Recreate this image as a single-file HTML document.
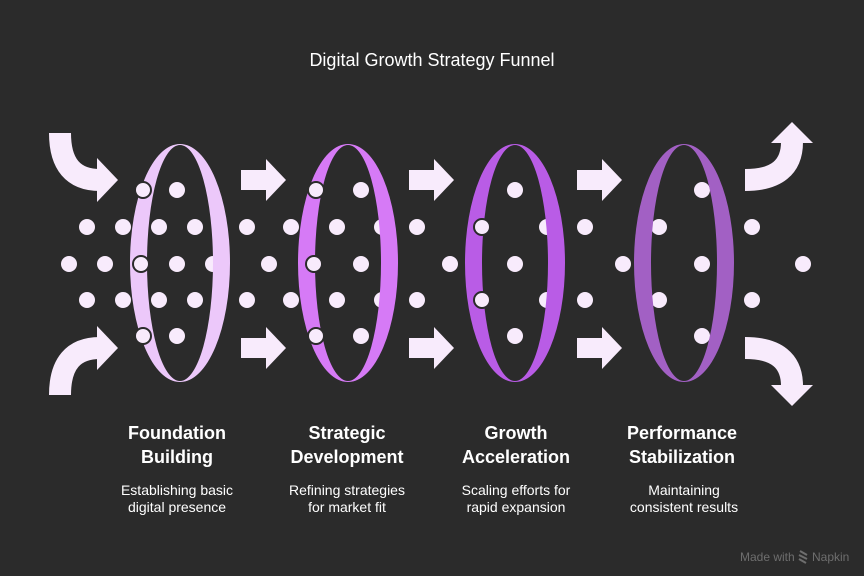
<!DOCTYPE html>
<html><head><meta charset="utf-8"><style>
body{margin:0;background:#2b2b2b;}
svg{display:block}
text{font-family:"Liberation Sans",sans-serif;}
</style></head><body>
<svg width="864" height="576" viewBox="0 0 864 576" xmlns="http://www.w3.org/2000/svg">
<rect width="864" height="576" fill="#2b2b2b"/>
<text x="432" y="66" text-anchor="middle" font-size="18" fill="#fff">Digital Growth Strategy Funnel</text>
<g fill="#f8ebfc" stroke="#f8ebfc">
<path d="M60,133 Q60,180 100,180" fill="none" stroke-width="22"/>
<polygon points="97,158 118,180 97,202" stroke="none"/>
<path d="M60,395 Q60,348 100,348" fill="none" stroke-width="22"/>
<polygon points="97,326 118,348 97,370" stroke="none"/>
<path d="M745,180 Q792,180 792,142" fill="none" stroke-width="22"/>
<polygon points="771,143 792,122 813,143" stroke="none"/>
<path d="M745,348 Q792,348 792,386" fill="none" stroke-width="22"/>
<polygon points="771,385 792,406 813,385" stroke="none"/>
<g stroke="none">
<polygon points="241,170 266,170 266,159 286,180 266,201 266,190 241,190"/>
<polygon points="241,338 266,338 266,327 286,348 266,369 266,358 241,358"/>
<polygon points="409,170 434,170 434,159 454,180 434,201 434,190 409,190"/>
<polygon points="409,338 434,338 434,327 454,348 434,369 434,358 409,358"/>
<polygon points="577,170 602,170 602,159 622,180 602,201 602,190 577,190"/>
<polygon points="577,338 602,338 602,327 622,348 602,369 602,358 577,358"/>
</g>
</g>
<g fill="#f8ebfc">
<circle cx="177" cy="190" r="8"/><circle cx="361" cy="190" r="8"/><circle cx="515" cy="190" r="8"/><circle cx="702" cy="190" r="8"/>
<circle cx="177" cy="336" r="8"/><circle cx="361" cy="336" r="8"/><circle cx="515" cy="336" r="8"/><circle cx="702" cy="336" r="8"/>
<circle cx="87" cy="227" r="8"/><circle cx="123" cy="227" r="8"/><circle cx="159" cy="227" r="8"/><circle cx="195" cy="227" r="8"/><circle cx="247" cy="227" r="8"/><circle cx="291" cy="227" r="8"/><circle cx="337" cy="227" r="8"/><circle cx="382" cy="227" r="8"/><circle cx="417" cy="227" r="8"/><circle cx="547" cy="227" r="8"/><circle cx="585" cy="227" r="8"/><circle cx="659" cy="227" r="8"/><circle cx="752" cy="227" r="8"/>
<circle cx="87" cy="300" r="8"/><circle cx="123" cy="300" r="8"/><circle cx="159" cy="300" r="8"/><circle cx="195" cy="300" r="8"/><circle cx="247" cy="300" r="8"/><circle cx="291" cy="300" r="8"/><circle cx="337" cy="300" r="8"/><circle cx="382" cy="300" r="8"/><circle cx="417" cy="300" r="8"/><circle cx="547" cy="300" r="8"/><circle cx="585" cy="300" r="8"/><circle cx="659" cy="300" r="8"/><circle cx="752" cy="300" r="8"/>
<circle cx="69" cy="264" r="8"/><circle cx="105" cy="264" r="8"/><circle cx="177" cy="264" r="8"/><circle cx="213" cy="264" r="8"/><circle cx="269" cy="264" r="8"/><circle cx="361" cy="264" r="8"/><circle cx="450" cy="264" r="8"/><circle cx="515" cy="264" r="8"/><circle cx="623" cy="264" r="8"/><circle cx="702" cy="264" r="8"/><circle cx="803" cy="264" r="8"/>
</g>
<g fill-rule="evenodd">
<path fill="#ecc8fa" d="M130,263 A50,119 0 0,1 230,263 A50,119 0 0,1 130,263 Z M147,263 A33,118 0 0,1 213,263 A33,118 0 0,1 147,263 Z"/>
<path fill="#d67af6" d="M298,263 A50,119 0 0,1 398,263 A50,119 0 0,1 298,263 Z M315,263 A33,118 0 0,1 381,263 A33,118 0 0,1 315,263 Z"/>
<path fill="#b95ce6" d="M465,263 A50,119 0 0,1 565,263 A50,119 0 0,1 465,263 Z M482,263 A33,118 0 0,1 548,263 A33,118 0 0,1 482,263 Z"/>
<path fill="#a260c4" d="M634,263 A50,119 0 0,1 734,263 A50,119 0 0,1 634,263 Z M651,263 A33,118 0 0,1 717,263 A33,118 0 0,1 651,263 Z"/>
</g>
<g fill="#f8ebfc" stroke="#2b2b2b" stroke-width="2">
<circle cx="143" cy="190" r="8"/><circle cx="141" cy="264" r="8"/><circle cx="143" cy="336" r="8"/>
<circle cx="316" cy="190" r="8"/><circle cx="314" cy="264" r="8"/><circle cx="316" cy="336" r="8"/>
<circle cx="482" cy="227" r="8"/><circle cx="482" cy="300" r="8"/>
</g>
<g fill="#fff" font-weight="bold" font-size="18" text-anchor="middle">
<text x="177" y="439">Foundation</text><text x="177" y="463">Building</text>
<text x="347" y="439">Strategic</text><text x="347" y="463">Development</text>
<text x="516" y="439">Growth</text><text x="516" y="463">Acceleration</text>
<text x="682" y="439">Performance</text><text x="682" y="463">Stabilization</text>
</g>
<g fill="#fff" font-size="14" text-anchor="middle">
<text x="177" y="495">Establishing basic</text><text x="177" y="512">digital presence</text>
<text x="347" y="495">Refining strategies</text><text x="347" y="512">for market fit</text>
<text x="516" y="495">Scaling efforts for</text><text x="516" y="512">rapid expansion</text>
<text x="684" y="495">Maintaining</text><text x="684" y="512">consistent results</text>
</g>
<text x="740" y="561" font-size="12" fill="#6e6e6e">Made with</text>
<path d="M800,551 l7,4 M799,555 l8,4 M799,559 l7,4" stroke="#6e6e6e" stroke-width="2"/>
<text x="812" y="561" font-size="12" fill="#6e6e6e">Napkin</text>
</svg>
</body></html>
